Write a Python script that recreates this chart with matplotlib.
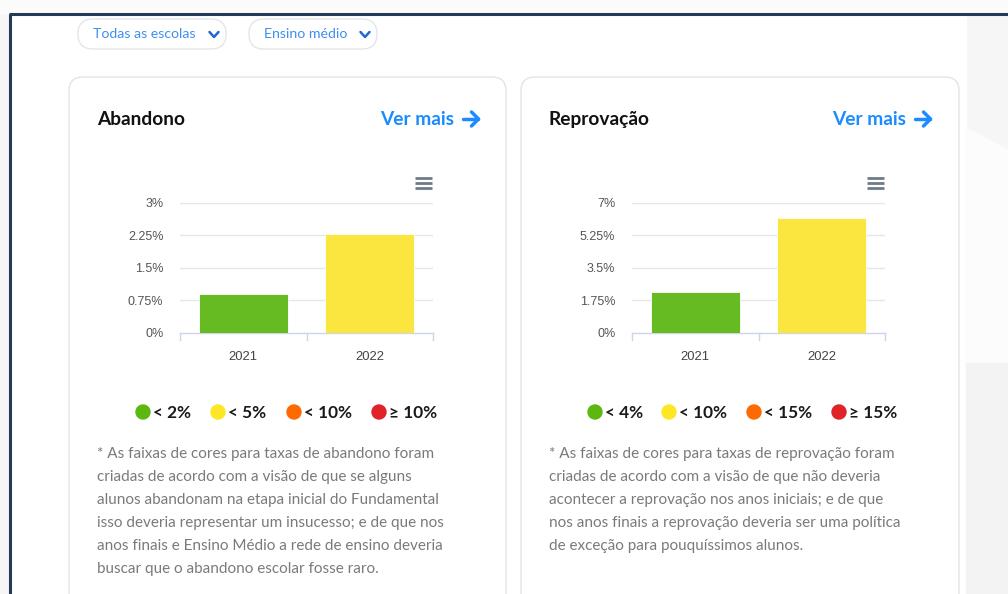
import matplotlib
matplotlib.use("Agg")
import matplotlib.pyplot as plt
import matplotlib.transforms as mtransforms
from matplotlib.patches import FancyBboxPatch, Rectangle, Circle, Polygon

# ---------------- data ----------------
years = ["2021", "2022"]
abandono = [0.89, 2.29]
reprovacao = [2.19, 6.18]
abandono_ticks = [0, 0.75, 1.5, 2.25, 3]
abandono_tick_labels = ["0%", "0.75%", "1.5%", "2.25%", "3%"]
reprovacao_ticks = [0, 1.75, 3.5, 5.25, 7]
reprovacao_tick_labels = ["0%", "1.75%", "3.5%", "5.25%", "7%"]
abandono_thresholds = [2, 5, 10]
reprovacao_thresholds = [4, 10, 15]
abandono_legend = ["< 2%", "< 5%", "< 10%", "≥ 10%"]
reprovacao_legend = ["< 4%", "< 10%", "< 15%", "≥ 15%"]
band_colors = ["#66bb22", "#fbe63f", "#ff6a10", "#e0262b"]
legend_dot_colors = ["#5cb811", "#fde725", "#ff6a00", "#e02229"]
abandono_note = [
    "* As faixas de cores para taxas de abandono foram",
    "criadas de acordo com a visão de que se alguns",
    "alunos abandonam na etapa inicial do Fundamental",
    "isso deveria representar um insucesso; e de que nos",
    "anos finais e Ensino Médio a rede de ensino deveria",
    "buscar que o abandono escolar fosse raro.",
]
reprovacao_note = [
    "* As faixas de cores para taxas de reprovação foram",
    "criadas de acordo com a visão de que não deveria",
    "acontecer a reprovação nos anos iniciais; e de que",
    "nos anos finais a reprovação deveria ser uma política",
    "de exceção para pouquíssimos alunos.",
]
dropdowns = ["Todas as escolas", "Ensino médio"]

W, H = 1008, 594
FONT = ["Lato", "DejaVu Sans"]
fig = plt.figure(figsize=(W / 100, H / 100), dpi=100)

bg = fig.add_axes([0, 0, 1, 1], zorder=0)
bg.set_xlim(0, W)
bg.set_ylim(H, 0)
bg.axis("off")

# page background
bg.add_patch(Rectangle((0, 0), W, H, color="#f6f6f7", zorder=0))
bg.add_patch(Rectangle((10, 14), 956, H - 14, color="white", zorder=1))
bg.add_patch(Polygon([(966, 128), (1008, 150), (1008, 363), (966, 363)], color="#fcfcfc", zorder=1))
bg.add_patch(Rectangle((966, 363), 42, H - 363, color="#f3f3f4", zorder=1))
bg.add_patch(Rectangle((0, 0), W, 13, color="#fbfbfb", zorder=1))
# dark frame
bg.plot([9, W], [14, 14], color="#233a59", lw=2.2, zorder=3, solid_capstyle="butt")
bg.plot([9.5, 9.5], [14, H], color="#233a59", lw=2.2, zorder=3, solid_capstyle="butt")

# dropdown pills
pills = [(78, 226), (249, 377)]
for (x0, x1), label in zip(pills, dropdowns):
    bg.add_patch(FancyBboxPatch((x0, 19), x1 - x0, 30,
                                boxstyle="round,pad=0,rounding_size=15",
                                fc="white", ec="#e3e6ea", lw=1, zorder=2))
    bg.text(x0 + 15, 34, label, fontsize=10.2, color="#3f8ef0", family=FONT,
            va="center", ha="left", zorder=4)
    cx = x1 - 12
    bg.plot([cx - 4.5, cx, cx + 4.5], [32, 37, 32], color="#1f67d6", lw=1.8,
            solid_capstyle="round", solid_joinstyle="round", zorder=4)

# cards
cards = [(69, 506), (521, 959)]
for x0, x1 in cards:
    bg.add_patch(FancyBboxPatch((x0, 77), x1 - x0, 560,
                                boxstyle="round,pad=0,rounding_size=14",
                                fc="white", ec="#e4e4e4", lw=1, zorder=2))


def panel(x0, title, values, ticks, tick_labels, thresholds, legend, note):
    # header
    bg.text(x0 + 28, 119.5, title, fontsize=13.8, fontweight="bold", color="#111111",
            family=FONT, va="center", ha="left", zorder=4)
    bg.text(x0 + 311, 119.5, "Ver mais", fontsize=13.8, fontweight="bold", color="#1a8cff",
            family=FONT, va="center", ha="left", zorder=4)
    ax0 = x0 + 394
    bg.plot([ax0, ax0 + 15], [119, 119], color="#1a8cff", lw=2.5, zorder=4, solid_capstyle="round")
    bg.plot([ax0 + 8.5, ax0 + 15.5, ax0 + 8.5], [112, 119, 126], color="#1a8cff", lw=2.5,
            zorder=4, solid_capstyle="round", solid_joinstyle="round")
    # hamburger
    for yy in (178, 183, 188):
        bg.plot([x0 + 346, x0 + 363], [yy, yy], color="#6e7b88", lw=2, zorder=4,
                solid_capstyle="butt")

    # chart axes
    left, right, top, bottom = x0 + 111, x0 + 364, 203, 333
    ax = fig.add_axes([left / W, 1 - bottom / H, (right - left) / W, (bottom - top) / H], zorder=3)
    ax.patch.set_alpha(0)
    x = list(range(len(years)))
    colors = []
    for v in values:
        idx = sum(v >= t for t in thresholds)
        colors.append(band_colors[idx])
    ax.bar(x, values, width=0.70, color=colors, edgecolor="white", linewidth=0.6, zorder=3)
    ax.set_xlim(-0.5, len(years) - 0.5)
    ax.set_ylim(0, ticks[-1])
    ax.set_yticks(ticks)
    ax.set_yticklabels(tick_labels)
    ax.set_xticks(x)
    ax.set_xticklabels(years)
    up = mtransforms.ScaledTranslation(0, 2.5 / 100, fig.dpi_scale_trans)
    for lab in ax.get_yticklabels():
        lab.set_family("Liberation Sans")
        lab.set_fontsize(9.0)
        lab.set_color("#555555")
        lab.set_transform(lab.get_transform() + up)
    for lab in ax.get_xticklabels():
        lab.set_family("Liberation Sans")
        lab.set_fontsize(9.4)
        lab.set_color("#444444")
    ax.tick_params(axis="y", length=0, pad=12)
    ax.tick_params(axis="x", length=0, pad=13)
    for t in ticks[1:]:
        ax.axhline(t, color="#e6e6e6", lw=1, zorder=1)
    for s in ("top", "right", "left"):
        ax.spines[s].set_visible(False)
    ax.spines["bottom"].set_color("#ccd6eb")
    ax.spines["bottom"].set_linewidth(1)
    # category separator ticks
    for xt in [i - 0.5 for i in range(len(years) + 1)]:
        ax.plot([xt, xt], [0, -ticks[-1] * 7 / 130], color="#ccd6eb", lw=1, clip_on=False, zorder=2)

    # legend
    lx = x0 + 74
    offsets = [0, 75, 151, 236] if legend[1] == "< 5%" else [0, 74, 159, 244]
    for off, lab, col in zip(offsets, legend, legend_dot_colors):
        bg.add_patch(Circle((lx + off, 412), 7, color=col, zorder=4))
        bg.text(lx + off + 10, 412.5, lab, fontsize=12.4, fontweight="bold", color="#1a1a1a",
                family=FONT, va="center", ha="left", zorder=4)

    # note
    for i, line in enumerate(note):
        bg.text(x0 + 28, 454 + 23 * i, line, fontsize=10.95, color="#7a7a7a",
                family=FONT, va="center", ha="left", zorder=4)


panel(69, "Abandono", abandono, abandono_ticks, abandono_tick_labels,
      abandono_thresholds, abandono_legend, abandono_note)
panel(521, "Reprovação", reprovacao, reprovacao_ticks, reprovacao_tick_labels,
      reprovacao_thresholds, reprovacao_legend, reprovacao_note)

fig.savefig("out.png", dpi=100)
